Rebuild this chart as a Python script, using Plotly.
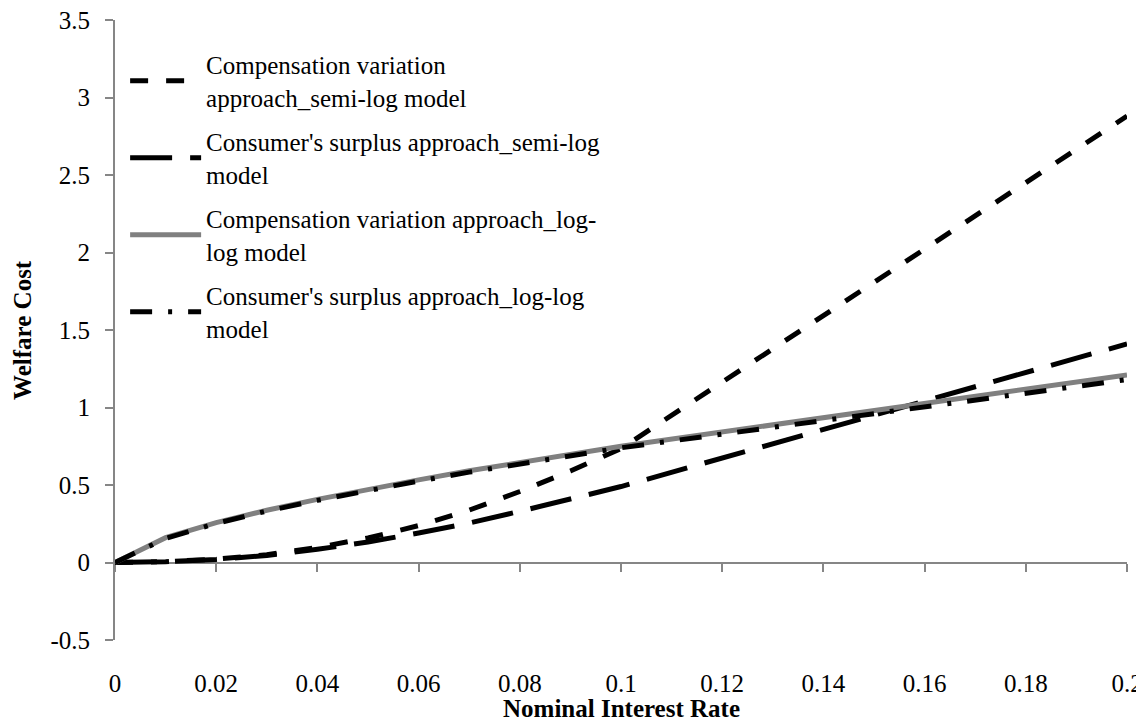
import plotly.graph_objects as go

# Data
interest_rate = [0, 0.01, 0.02, 0.03, 0.04, 0.05, 0.06, 0.07, 0.08, 0.09, 0.1, 0.2]
cv_semilog = [0, 0.005, 0.022, 0.05, 0.097, 0.158, 0.238, 0.338, 0.458, 0.59, 0.735, 2.88]
cs_semilog = [0, 0.005, 0.02, 0.045, 0.085, 0.132, 0.19, 0.255, 0.33, 0.41, 0.49, 1.41]
cv_loglog = [0, 0.16, 0.257, 0.337, 0.407, 0.472, 0.533, 0.592, 0.646, 0.699, 0.75, 1.21]
cs_loglog = [0, 0.155, 0.252, 0.332, 0.401, 0.465, 0.525, 0.583, 0.637, 0.689, 0.74, 1.18]

series_names = [
    "Compensation variation<br>approach_semi-log model",
    "Consumer's surplus approach_semi-log<br>model",
    "Compensation variation approach_log-<br>log model",
    "Consumer's surplus approach_log-log<br>model",
]

x_tickvals = [0, 0.02, 0.04, 0.06, 0.08, 0.1, 0.12, 0.14, 0.16, 0.18, 0.2]
x_ticktext = ["0", "0.02", "0.04", "0.06", "0.08", "0.1", "0.12", "0.14", "0.16", "0.18", "0.2"]
y_tickvals = [-0.5, 0, 0.5, 1, 1.5, 2, 2.5, 3, 3.5]
y_ticktext = ["-0.5", "0", "0.5", "1", "1.5", "2", "2.5", "3", "3.5"]
x_title = "Nominal Interest Rate"
y_title = "Welfare Cost"

FONT = "Liberation Serif"
FS = 25
AXIS_GRAY = "#868686"

fig = go.Figure()

styles = [
    dict(color="black", width=5, dash="18px,18px"),
    dict(color="black", width=5, dash="42px,18px"),
    dict(color="#808080", width=5, dash="solid"),
    dict(color="black", width=5, dash="22px,16px,4px,16px"),
]
series = [cv_semilog, cs_semilog, cv_loglog, cs_loglog]

for i, (name, ys, st) in enumerate(zip(series_names, series, styles)):
    fig.add_trace(go.Scatter(
        x=interest_rate, y=ys, mode="lines", name=name,
        line=st, legendgroup=f"g{i}",
    ))

# invisible trace on xaxis2 so that the axis drawn at y=0 exists
fig.add_trace(go.Scatter(x=[interest_rate[0]], y=[0], xaxis="x2", mode="lines",
                         showlegend=False, hoverinfo="skip", line=dict(width=0)))

# page body has an 8px default margin, so the figure is made 8px smaller
fig.update_layout(
    width=1136, height=716,
    paper_bgcolor="white", plot_bgcolor="white",
    margin=dict(l=107, r=17, t=12, b=84),
    font=dict(family=FONT, size=FS, color="black"),
    showlegend=True,
    legend=dict(
        x=0.010, y=0.965, xanchor="left", yanchor="top",
        bgcolor="rgba(0,0,0,0)", font=dict(family=FONT, size=FS, color="black"),
        tracegroupgap=9, itemwidth=71, traceorder="grouped",
    ),
    xaxis=dict(
        range=[0, 0.2], tickvals=x_tickvals, ticktext=x_ticktext,
        showline=False, showgrid=False, zeroline=False, ticks="",
        ticklabelstandoff=26, automargin=False, ticklabeloverflow="allow",
        tickfont=dict(family=FONT, size=FS, color="black"),
    ),
    xaxis2=dict(
        range=[0, 0.2], overlaying="x", anchor="free", position=0.125,
        tickvals=x_tickvals, showticklabels=False, showline=True,
        linecolor=AXIS_GRAY, linewidth=2, ticks="outside", ticklen=8,
        tickcolor=AXIS_GRAY, tickwidth=2, showgrid=False, zeroline=False,
        layer="below traces", automargin=False,
    ),
    yaxis=dict(
        range=[-0.5, 3.5], tickvals=y_tickvals, ticktext=y_ticktext,
        showline=True, linecolor=AXIS_GRAY, linewidth=2,
        ticks="outside", ticklen=8, tickcolor=AXIS_GRAY, tickwidth=2,
        showgrid=False, zeroline=False, ticklabelstandoff=10,
        automargin=False, ticklabeloverflow="allow",
        tickfont=dict(family=FONT, size=FS, color="black"),
        layer="below traces",
    ),
    annotations=[
        dict(text=f"<b>{x_title}</b>", xref="paper", yref="paper",
             x=0.5, y=-0.11, xanchor="center", yanchor="middle",
             showarrow=False, font=dict(family=FONT, size=FS, color="black")),
        dict(text=f"<b>{y_title}</b>", xref="paper", yref="paper",
             x=-0.092, y=0.5, xanchor="center", yanchor="middle", textangle=-90,
             showarrow=False, font=dict(family=FONT, size=FS, color="black")),
    ],
)

fig.write_html("out.html")
